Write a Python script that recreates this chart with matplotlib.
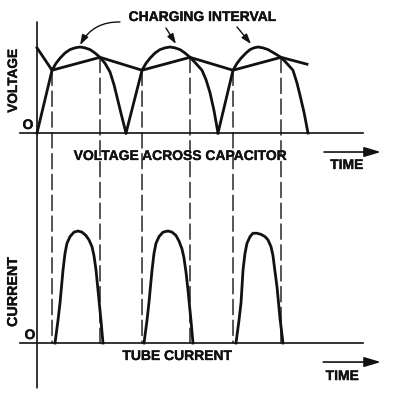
"""Full-wave rectifier with capacitor input: capacitor voltage and tube current."""
import matplotlib
matplotlib.use('Agg')
import matplotlib.pyplot as plt
import matplotlib.patheffects as pe
from matplotlib.patches import ConnectionPatch

plt.rcParams['font.family'] = ['Liberation Sans', 'DejaVu Sans']
plt.rcParams['font.weight'] = 'bold'

# time axis: 10 units per half cycle; voltage/current in % of peak
hump_t = [
    [0.0, 1.67, 2.11, 2.56, 3.11, 3.67, 4.22, 4.78, 5.33, 5.89, 6.44, 7.0,
     7.56, 8.11, 8.56, 8.89, 9.33, 9.89],
    [9.89, 11.67, 12.11, 12.56, 13.11, 13.67, 14.22, 14.78, 15.33, 15.89, 16.44, 17.0,
     17.56, 18.33, 18.78, 19.22, 19.67, 20.11],
    [20.11, 21.78, 22.22, 22.67, 23.22, 23.67, 24.11, 24.56, 25.11, 25.67, 26.33, 27.11,
     27.67, 28.44, 28.89, 29.22, 29.67, 30.11],
]
hump_v = [
    [0, 73, 81, 87, 93, 97, 99, 100, 99, 97, 93, 88, 81, 71, 56, 42, 23, 0],
    [0, 73, 81, 87, 93, 97, 99, 100, 99, 97, 93, 88, 82, 73, 62, 47, 26, 0],
    [0, 73, 81, 87, 93, 97, 99, 100, 99, 97, 93, 88, 82, 73, 58, 44, 24, 0],
]

cap_t = [0.0, 1.67, 7.0, 11.67, 17.0, 21.78, 27.11, 30.0]
cap_v = [99, 73, 88, 73, 88, 73, 88, 80]

# start / end of each charging interval
charge_t = [1.67, 7.0, 11.67, 17.0, 21.78, 27.11]
charge_v = [73, 88, 73, 88, 73, 88]

pulse_t = [
    [2.0, 2.33, 2.56, 2.89, 3.11, 3.33, 3.67, 4.11, 4.56, 5.0, 5.44, 5.78,
     6.11, 6.33, 6.56, 6.78, 7.11, 7.33],
    [11.89, 12.22, 12.44, 12.78, 13.0, 13.22, 13.56, 14.0, 14.56, 15.0, 15.44, 15.78,
     16.11, 16.33, 16.56, 16.78, 17.11, 17.33],
    [22.11, 22.44, 22.67, 22.89, 23.11, 23.33, 23.67, 24.0, 24.44, 24.89, 25.33, 25.67,
     26.0, 26.22, 26.44, 26.67, 27.0, 27.33],
]
pulse_i = [
    [0, 20, 36, 65, 80, 89, 95, 99, 100, 99, 96, 92, 86, 78, 65, 47, 20, 0],
    [0, 20, 36, 65, 80, 89, 95, 99, 100, 99, 96, 91, 84, 76, 63, 47, 20, 0],
    [0, 20, 36, 65, 80, 89, 95, 98, 98, 97, 95, 92, 86, 78, 64, 50, 22, 0],
]

fig = plt.figure(figsize=(3.96, 4.08), dpi=100)
ax1 = fig.add_axes([0, 208 / 408, 1, 200 / 408])
ax2 = fig.add_axes([0, 0, 1, 208 / 408])
for ax in (ax1, ax2):
    ax.set_xlim(-37 / 9, 359 / 9)
    ax.axis('off')
ax1.set_ylim(-77.9, 154.65)
ax2.set_ylim(-58.04, 127.68)

ink = '#111111'
bold_ink = [pe.withStroke(linewidth=0.25, foreground=ink)]

# upper panel
for t, v in zip(hump_t, hump_v):
    ax1.plot(t, v, color=ink, lw=2.0, solid_joinstyle='round')
ax1.plot(cap_t, cap_v, color=ink, lw=2.0, solid_joinstyle='round')
ax1.plot([-1.89, 36.2], [0, 0], color=ink, lw=1.2)

# lower panel
for t, i in zip(pulse_t, pulse_i):
    ax2.plot(t, i, color=ink, lw=2.0, solid_joinstyle='round')
ax2.plot([-1.89, 36.2], [0, 0], color=ink, lw=1.2)

# vertical axis through both panels
fig.add_artist(ConnectionPatch(xyA=(0, 129), coordsA=ax1.transData,
                               xyB=(0, -40), coordsB=ax2.transData,
                               color=ink, lw=1.2))

# dashed markers for the charging intervals
for t, v in zip(charge_t, charge_v):
    fig.add_artist(ConnectionPatch(xyA=(t, v), coordsA=ax1.transData,
                                   xyB=(t, 0), coordsB=ax2.transData,
                                   color=ink, lw=1.0, linestyle=(0, (11, 4))))

# labels
txt = dict(ha='center', va='center', fontsize=10, color=ink, path_effects=bold_ink)
head = '-|>,head_length=0.6,head_width=0.2'
ax1.text(18.33, 134.9, 'CHARGING INTERVAL', **txt)
ax1.annotate('', xy=(4.78, 102.3), xytext=(9.22, 129.1),
             arrowprops=dict(arrowstyle=head, color=ink, lw=1.0,
                             connectionstyle='arc3,rad=0.3', shrinkA=0, shrinkB=0))
ax1.annotate('', xy=(15.44, 103.5), xytext=(14.33, 122.1),
             arrowprops=dict(arrowstyle=head, color=ink, lw=1.0, shrinkA=0, shrinkB=0))
ax1.annotate('', xy=(23.78, 103.5), xytext=(22.22, 123.3),
             arrowprops=dict(arrowstyle=head, color=ink, lw=1.0, shrinkA=0, shrinkB=0))
ax1.text(-2.67, 60.5, 'VOLTAGE', rotation=90, **{**txt, 'fontsize': 9.8})
ax1.text(-1.0, 9.3, 'O', **txt)
ax1.text(15.89, -26.7, 'VOLTAGE ACROSS CAPACITOR', **txt)
ax1.annotate('', xy=(38.2, -22.1), xytext=(31.9, -22.1),
             arrowprops=dict(arrowstyle='-|>,head_length=1.0,head_width=0.3',
                             color=ink, lw=1.2, shrinkA=0, shrinkB=0))
ax1.text(34.4, -37.2, 'TIME', **txt)

ax2.text(-2.67, 45.5, 'CURRENT', rotation=90, **{**txt, 'fontsize': 10.3})
ax2.text(-0.78, 7.1, 'O', **txt)
ax2.text(15.56, -11.6, 'TUBE CURRENT', **txt)
ax2.annotate('', xy=(38.2, -17), xytext=(31.8, -17),
             arrowprops=dict(arrowstyle='-|>,head_length=1.0,head_width=0.3',
                             color=ink, lw=1.2, shrinkA=0, shrinkB=0))
ax2.text(33.9, -29.5, 'TIME', **txt)

fig.savefig('out.png', dpi=100, facecolor='white')
